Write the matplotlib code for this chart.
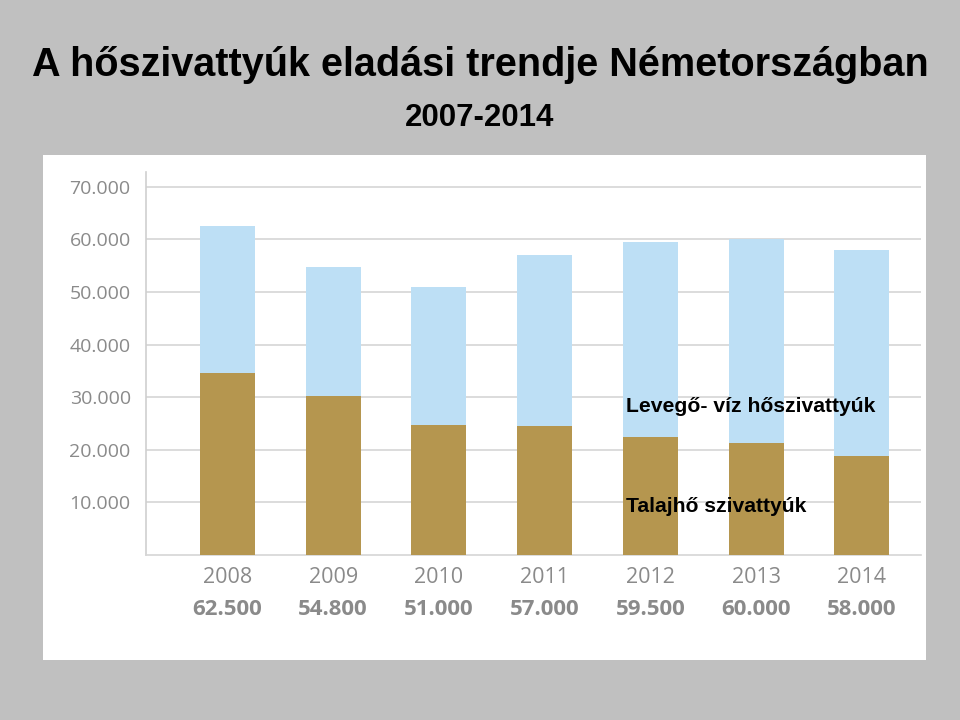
import matplotlib.pyplot as plt
import numpy as np

# data
years = ['2008', '2009', '2010', '2011', '2012', '2013', '2014']
totals = [62500, 54800, 51000, 57000, 59500, 60000, 58000]
ground = [34600, 30200, 24700, 24500, 22400, 21300, 18800]
air = [t - g for t, g in zip(totals, ground)]
yticks = [10000, 20000, 30000, 40000, 50000, 60000, 70000]

def fmt(v):
    return f'{v:,}'.replace(',', '.')

fig = plt.figure(figsize=(9.6, 7.2), dpi=100)
fig.patch.set_facecolor('#c0c0c0')

# white panel behind the chart
bg = fig.add_axes([43 / 960, 1 - 660 / 720, (926 - 43) / 960, (660 - 155) / 720], zorder=0)
bg.set_facecolor('white')
bg.set_xticks([])
bg.set_yticks([])
for s in bg.spines.values():
    s.set_visible(False)

fig.text(0.5, 1 - 65 / 720, 'A hőszivattyúk eladási trendje Németországban',
         ha='center', va='center', fontsize=28.5, fontweight='bold',
         family='Liberation Sans', color='black')
fig.text(0.5, 1 - 118 / 720, '2007-2014', ha='center', va='center', fontsize=22.5,
         fontweight='bold', family='Liberation Sans', color='black')

ax = fig.add_axes([146 / 960, 1 - 555 / 720, (921 - 146) / 960, (555 - 172) / 720], zorder=1)
ax.set_facecolor('none')
x = np.arange(len(years))
w = 0.52
ax.bar(x, ground, w, color='#b5964f', zorder=3)
ax.bar(x, air, w, bottom=ground, color='#bddff5', zorder=3)

ax.set_xlim(-0.77, 6.56)
ax.set_ylim(0, 72800)
ax.set_yticks(yticks)
ax.set_yticklabels([fmt(v) for v in yticks])
ax.yaxis.grid(True, color='#d6d6d6', linewidth=1.2, zorder=0)
ax.tick_params(axis='y', length=0, pad=11, labelsize=14, labelcolor='#8a8a8a')
for lab in ax.get_yticklabels():
    lab.set_family('Open Sans')
ax.set_xticks([])
for s in ['top', 'right']:
    ax.spines[s].set_visible(False)
ax.spines['left'].set_color('#cfcfcf')
ax.spines['bottom'].set_color('#d6d6d6')
ax.spines['left'].set_linewidth(1.2)
ax.spines['bottom'].set_linewidth(1.2)

# year and total labels below the axis
for i, (yr, tot) in enumerate(zip(years, totals)):
    ax.annotate(yr, (i, 0), xytext=(0, -16.5), textcoords='offset points',
                ha='center', va='center', fontsize=15.5, color='#8a8a8a',
                family='Open Sans')
    ax.annotate(fmt(tot), (i, 0), xytext=(0, -39.5), textcoords='offset points',
                ha='center', va='center', fontsize=16, fontweight='bold',
                color='#8a8a8a', family='Open Sans')

fig.text(626 / 960, 1 - 407 / 720, 'Levegő- víz hőszivattyúk', ha='left', va='center',
         fontsize=15.2, fontweight='bold', family='Liberation Sans', color='black', zorder=5)
fig.text(626 / 960, 1 - 507 / 720, 'Talajhő szivattyúk', ha='left', va='center',
         fontsize=15.2, fontweight='bold', family='Liberation Sans', color='black', zorder=5)

fig.savefig('out.png', dpi=100, facecolor=fig.get_facecolor())
